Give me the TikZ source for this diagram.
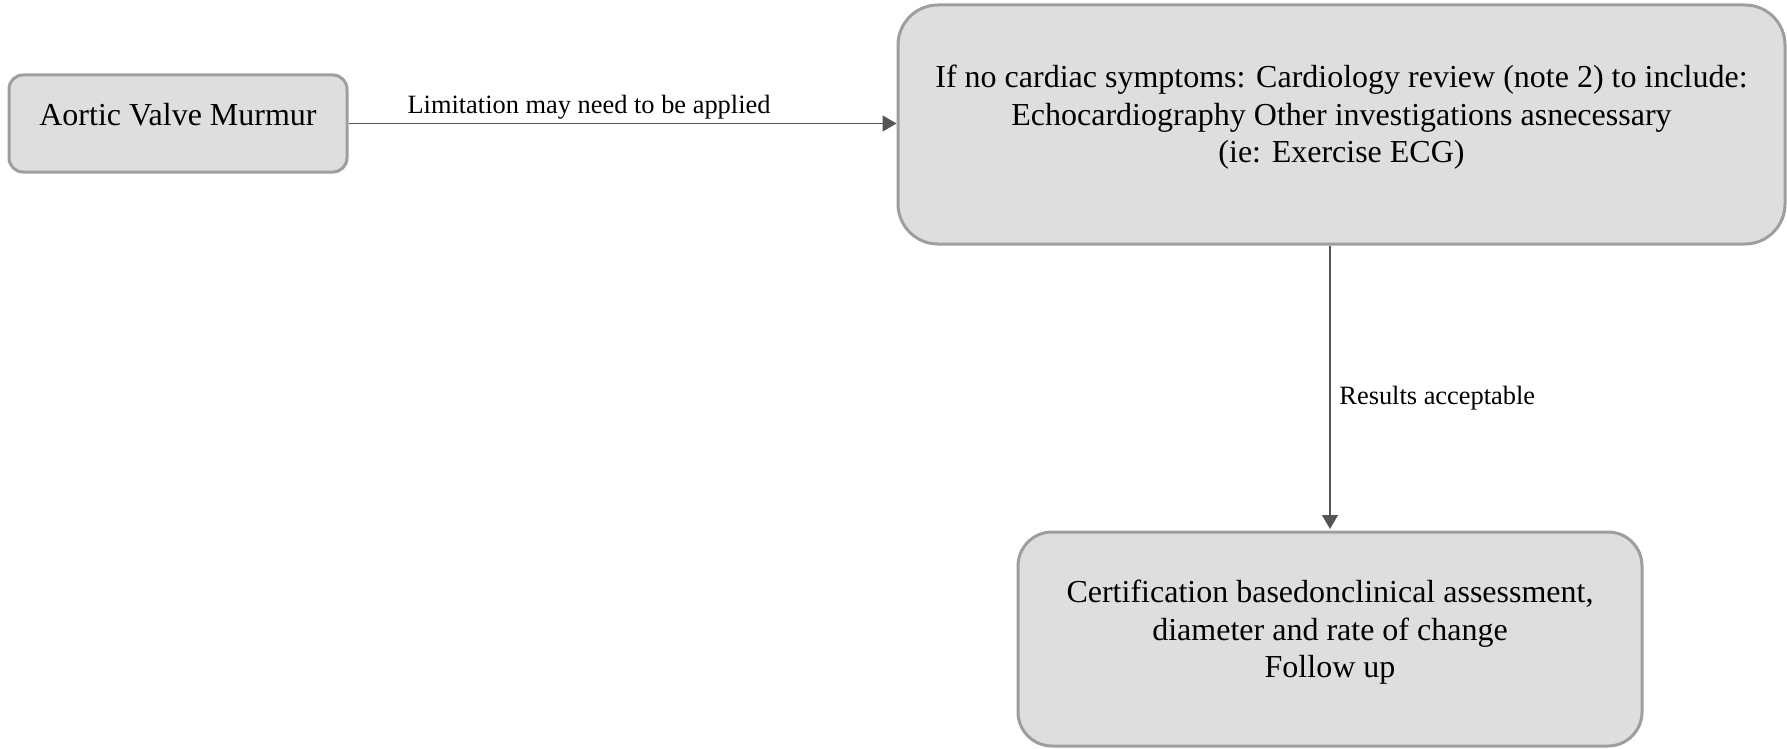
\documentclass[tikz,border=0pt]{standalone}
\usepackage{fontspec}
\setmainfont{Liberation Serif}
\usetikzlibrary{arrows.meta}
\definecolor{boxfill}{HTML}{DEDEDE}
\definecolor{boxline}{HTML}{9E9E9E}
\definecolor{wire}{HTML}{555555}
\tikzset{
  stepbox/.style={draw=boxline, fill=boxfill, line width=1.5pt, inner sep=0pt},
  boxtext/.style={align=center, inner sep=0pt, font=\fontsize{16}{18.8}\selectfont},
  edgetext/.style={inner sep=0pt, font=\fontsize{13.2}{15.5}\selectfont},
  flow/.style={draw=wire, line width=0.75pt, -{Triangle[length=7pt,width=8pt]}, color=wire},
}
\begin{document}
\begin{tikzpicture}[x=0.5pt, y=-0.5pt]
  \useasboundingbox (0,0) rectangle (1787,749);

  % boxes
  \node[stepbox, rounded corners=7pt, minimum width=169pt, minimum height=48.5pt] (b1) at (178,123.5) {};
  \node[stepbox, rounded corners=20pt, minimum width=443.5pt, minimum height=119.5pt] (b2) at (1341.5,124.5) {};
  \node[stepbox, rounded corners=17pt, minimum width=312pt, minimum height=107pt] (b3) at (1330,639) {};

  % box texts, set slightly above each box centre
  \node[boxtext] (t1) at ([yshift=4.25pt]b1.center) {Aortic Valve Murmur};
  \node[boxtext] (t2) at ([yshift=3.5pt]b2.center) {If no cardiac symptoms: Cardiology review (note 2) to include:\\Echocardiography Other investigations asnecessary\\(ie: Exercise ECG)};
  \node[boxtext] (t3) at ([yshift=3.25pt]b3.center) {Certification basedonclinical assessment,\\diameter and rate of change\\Follow up};

  % connectors
  \draw[flow] (b1.east) -- (b1.east -| b2.west);
  \draw[flow] (b2.south -| b3.north) -- ([yshift=0.75pt]b3.north);

  % connector labels
  \node[edgetext] (l1) at (589,107.5) {Limitation may need to be applied};
  \node[edgetext, anchor=west] (l2) at (1339,398) {Results acceptable};
\end{tikzpicture}
\end{document}
